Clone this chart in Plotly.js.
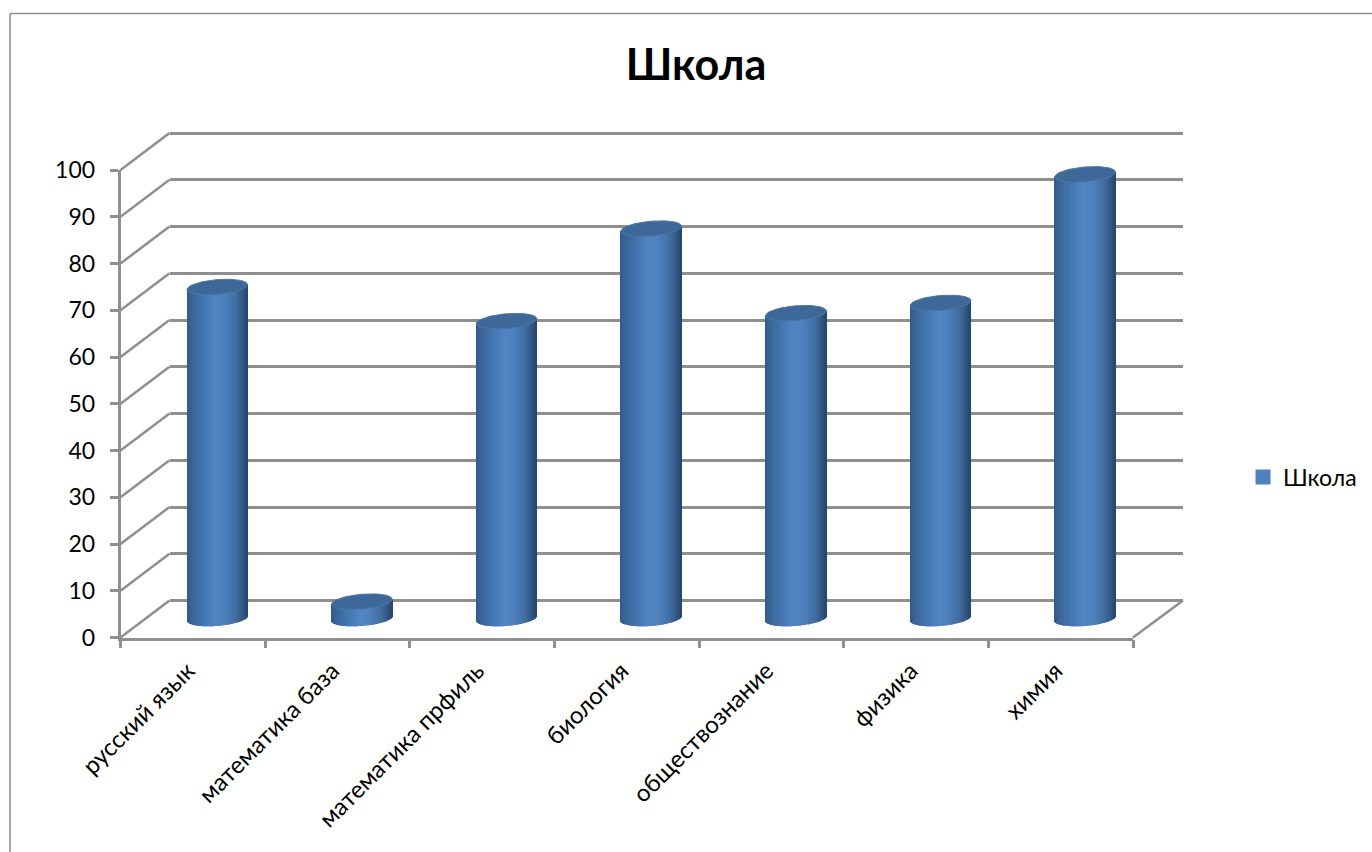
<!DOCTYPE html>
<html>
<head>
<meta charset="utf-8">
<script src="https://cdn.plot.ly/plotly-3.0.1.min.js"></script>
<style>html,body{margin:0;padding:0;background:#fff;overflow:hidden}#c{width:1372px;height:852px}</style>
</head>
<body>
<div id="c"></div>
<script>
var categories = ["русский язык","математика база","математика прфиль","биология","обществознание","физика","химия"];
var values = [70.9, 3.6, 63.6, 83.4, 65.3, 67.5, 95];
var seriesName = "Школа";
var yTicks = [0,10,20,30,40,50,60,70,80,90,100];

var W = 1372, H = 852, FONT = "Lato, 'Open Sans', sans-serif", GRID = "#8f8f8f";
function px(a,b){ return [a/W, b/W]; }
function py(bottom,top){ return [1-bottom/H, 1-top/H]; }
var FRONT = {l:120.5, r:1133, b:637.5, t:170};
var DX = 49, DY = 37;
var unitX = (FRONT.r-FRONT.l)/7, unitY = (FRONT.b-FRONT.t)/100;

// Cylinder look: vertical strips, each one a bar trace of the same values
var N = 60, barW = 60.6/unitX, rb = 7.4/unitY, shear = 2.4/unitY;
var stops = [[-1,[48,90,136]],[-0.8,[58,102,155]],[-0.4,[70,120,178]],[-0.05,[80,133,196]],[0.25,[78,128,188]],[0.6,[66,112,165]],[0.85,[52,88,132]],[1,[40,68,104]]];
function shade(u){
  for (var i=1;i<stops.length;i++) if (u<=stops[i][0]) {
    var a=stops[i-1], b=stops[i], f=(u-a[0])/(b[0]-a[0]);
    return "rgb("+a[1].map(function(c,j){return Math.round(c+(b[1][j]-c)*f);}).join(",")+")";
  }
  return "rgb(40,68,104)";
}
var idx = categories.map(function(_,i){return i;});
var traces = [];

// back wall gridlines
traces.push({type:"scatter",mode:"lines",x:categories,y:values,xaxis:"x",yaxis:"y",line:{width:0},opacity:0,showlegend:false,hoverinfo:"skip"});

// main series
traces.push({type:"bar",name:seriesName,x:idx,y:values,xaxis:"x2",yaxis:"y2",width:barW*0.97,marker:{color:"#4F81BD",line:{width:0}},showlegend:false,hoverinfo:"x+y"});
for (var s=0;s<N;s++){
  var u0=-1+2*s/N, u1=-1+2*(s+1)/N, u=(u0+u1)/2;
  var arc=-rb*Math.sqrt(Math.max(0,1-u*u))+shear*u;
  traces.push({type:"bar",x:idx,
    y:values.map(function(v){return v+shear*u-arc;}),
    base:values.map(function(){return arc;}),
    width:barW*(u1-u0)/2+0.0006,offset:barW*u0/2,
    xaxis:"x2",yaxis:"y2",marker:{color:shade(u),line:{width:0}},showlegend:false,hoverinfo:"skip"});
}
// top ellipses
values.forEach(function(v,i){
  var xs=[],ys=[];
  for (var t=0;t<=72;t++){
    var a=t/72*2*Math.PI;
    xs.push(i+barW/2*Math.cos(a));
    ys.push(v+rb*Math.sin(a)+shear*Math.cos(a));
  }
  traces.push({type:"scatter",mode:"lines",x:xs,y:ys,xaxis:"x2",yaxis:"y2",fill:"toself",fillcolor:"#3d6898",line:{color:"#4a76a8",width:1},showlegend:false,hoverinfo:"skip"});
});
// front axes carrier
traces.push({type:"scatter",mode:"lines",x:categories,y:values,xaxis:"x3",yaxis:"y3",line:{width:0},opacity:0,showlegend:false,hoverinfo:"skip"});
// legend entry
traces.push({type:"scatter",mode:"markers",name:seriesName,x:[null],y:[null],xaxis:"x3",yaxis:"y3",marker:{symbol:"square",size:15,color:"#4F81BD"},showlegend:true,hoverinfo:"skip"});

// wall and floor diagonals
var shapes = [];
function seg(x0,y0,x1,y1,w,c){
  shapes.push({type:"line",xref:"paper",yref:"paper",x0:x0/W,x1:x1/W,y0:1-y0/H,y1:1-y1/H,layer:"below",line:{color:c||GRID,width:w||2.5}});
}
yTicks.forEach(function(v){
  var y=FRONT.b-v*unitY;
  seg(FRONT.l,y,FRONT.l+DX,y-DY);
});
seg(FRONT.r,FRONT.b,FRONT.r+DX+1,FRONT.b-DY);
// chart area border
seg(10,852,10,13.5,1.5,"#8c8c8c");
seg(10,13.5,1372,13.5,1.5,"#8c8c8c");

var pad = 4, padPx = pad*unitY;
var layout = {
  width:W,height:H,margin:{l:0,r:0,t:0,b:0,pad:0},paper_bgcolor:"#fff",plot_bgcolor:"rgba(0,0,0,0)",
  font:{family:FONT,color:"#000"},barmode:"overlay",hovermode:"closest",
  title:{text:"<b>"+seriesName+"</b>",x:696/W,xanchor:"center",y:1-65/H,yanchor:"middle",font:{family:FONT,size:43,color:"#000"}},
  legend:{x:1243/W,xanchor:"left",y:1-477/H,yanchor:"middle",bgcolor:"rgba(0,0,0,0)",font:{family:FONT,size:23,color:"#000"}},
  shapes:shapes,
  xaxis:{domain:px(FRONT.l+DX,FRONT.r+DX+1),type:"category",categoryorder:"array",categoryarray:categories,range:[-0.5,6.5],showticklabels:false,ticks:"",showgrid:false,zeroline:false,showline:false,anchor:"y"},
  yaxis:{domain:py(FRONT.b-DY+padPx,FRONT.t-DY-padPx),range:[-pad,100+pad],tickvals:yTicks,showticklabels:false,ticks:"",showgrid:true,gridcolor:GRID,gridwidth:2.5,zeroline:false,showline:false,anchor:"x"},
  xaxis2:{domain:px(FRONT.l+24.5,FRONT.r+24.5),range:[-0.5,6.5],type:"linear",visible:false,anchor:"y2"},
  yaxis2:{domain:py(618.5+padPx,618.5-100*unitY),range:[-pad,100],type:"linear",visible:false,anchor:"x2"},
  xaxis3:{domain:px(FRONT.l,FRONT.r),type:"category",categoryorder:"array",categoryarray:categories,range:[-0.5,6.5],tickson:"boundaries",ticks:"outside",ticklen:8,tickwidth:2.5,tickcolor:GRID,showline:true,linecolor:GRID,linewidth:2.5,showgrid:false,zeroline:false,tickangle:-45,ticklabelstandoff:7,ticklabelshift:-5,tickfont:{family:FONT,size:24,color:"#000"},anchor:"y3"},
  yaxis3:{domain:py(FRONT.b,FRONT.t),range:[0,100],tickvals:yTicks,ticktext:yTicks.map(String),ticks:"outside",ticklen:8,tickwidth:2.5,tickcolor:GRID,showline:true,linecolor:GRID,linewidth:2.5,showgrid:false,zeroline:false,ticklabelstandoff:10,tickfont:{family:FONT,size:23,color:"#000"},anchor:"x3"}
};
Plotly.newPlot("c",traces,layout,{displayModeBar:false});
</script>
</body>
</html>
